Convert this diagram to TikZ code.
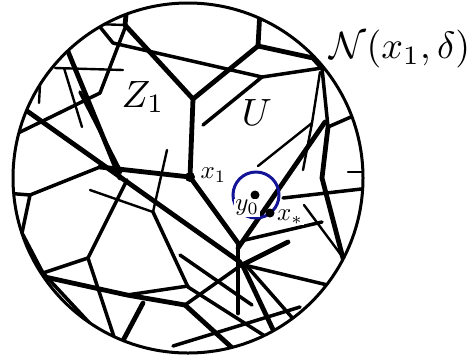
\documentclass[tikz,border=0pt]{standalone}
\begin{document}
\begin{tikzpicture}[x=1pt,y=-1pt,
  wa/.style={line width=4.8pt, line cap=round, line join=round},
  wb/.style={line width=3.5pt, line cap=round, line join=round},
  wc/.style={line width=2.4pt, line cap=round, line join=round},
  big/.style={scale=3.8, inner sep=0pt},
  small/.style={scale=2.5, inner sep=0.4pt}]
\useasboundingbox (0,0) rectangle (473,360);
\coordinate (C) at (188,178);
\begin{scope}
\clip (C) circle (175pt);
\draw[wa] (127,5)--(125,25);
\draw[wa] (125,25)--(193,99);
\draw[wa] (193,99)--(190,177);
\draw[wa] (193,99)--(258,46);
\draw[wa] (258,46)--(260,10);
\draw[wa] (258,46)--(313,58)--(322,68);
\draw[wb] (100,27)--(113,43)--(262,77);
\draw[wb] (262,77)--(322,68);
\draw[wb] (262,77)--(203,125);
\draw[wc] (95,24)--(125,25);
\draw[wb] (125,28)--(100,93);
\draw[wb] (100,93)--(10,137);
\draw[wa] (20,106)--(240,262);
\draw[wa] (60,32)--(120,178);
\draw[wb] (80,92)--(121,172);
\draw[wc] (64,68)--(82,127);
\draw[wc] (55,68)--(123,70);
\draw[wc] (40,85)--(39,103);
\draw[wb] (5,193)--(30,195)--(100,167);
\draw[wa] (100,167)--(190,177);
\draw[wa] (190,177)--(238,243);
\draw[wb] (127,180)--(88,258);
\draw[wc] (90,190)--(153,212);
\draw[wc] (167,150)--(153,212);
\draw[wb] (153,212)--(188,287);
\draw[wb] (188,287)--(268,338);
\draw[wb] (88,258)--(43,273);
\draw[wb] (30,195)--(22,233)--(43,273);
\draw[wb] (43,273)--(110,345);
\draw[wa] (45,277)--(127,295)--(185,305);
\draw[wb] (127,295)--(188,286);
\draw[wb] (88,258)--(120,355);
\draw[wa] (143,303)--(118,350);
\draw[wb] (180,255)--(252,305);
\draw[wa] (185,305)--(240,355);
\draw[wb] (173,346)--(300,307);
\draw[wb] (185,305)--(240,266);
\draw[wa] (238,243)--(238,313);
\draw[wa] (325,122)--(238,248);
\draw[wa] (242,265)--(288,242);
\draw[wb] (240,264)--(340,288);
\draw[wb] (245,240)--(322,222);
\draw[wa] (242,264)--(285,355);
\draw[wb] (245,264)--(310,338);
\draw[wb] (283,198)--(370,188);
\draw[wa] (328,127)--(322,178)--(350,285);
\draw[wc] (304,205)--(350,267);
\draw[wc] (348,172)--(370,172);
\draw[wb] (322,68)--(328,127)--(360,113);
\draw[wc] (320,72)--(312,123)--(303,170);
\draw[wc] (312,123)--(258,166);
\end{scope}
\draw[line width=3pt] (C) circle (175pt);
% points
\coordinate (x1) at (190,177);
\coordinate (y0) at (255,195);
\coordinate (xs) at (270,213);
\draw[line width=3pt, draw={rgb,255:red,20;green,20;blue,150}] (256,195) circle (23pt);
\fill (x1) circle (5pt);
\fill (y0) circle (4.5pt);
\fill (xs) circle (4.5pt);
\node[small, anchor=west] (lx1) at (199,175) {$x_1$};
\node[small, fill=white] (ly0) at (247,208) {$y_0$};
\node[small, fill=white] (lxs) at (290,217) {$x_*$};
\node[big] (lz) at (143,97) {$Z_1$};
\node[big] (lu) at (257,113) {$U$};
\node[big] (ln) at (400,49) {$\mathcal{N}(x_1,\delta)$};
\end{tikzpicture}
\end{document}
